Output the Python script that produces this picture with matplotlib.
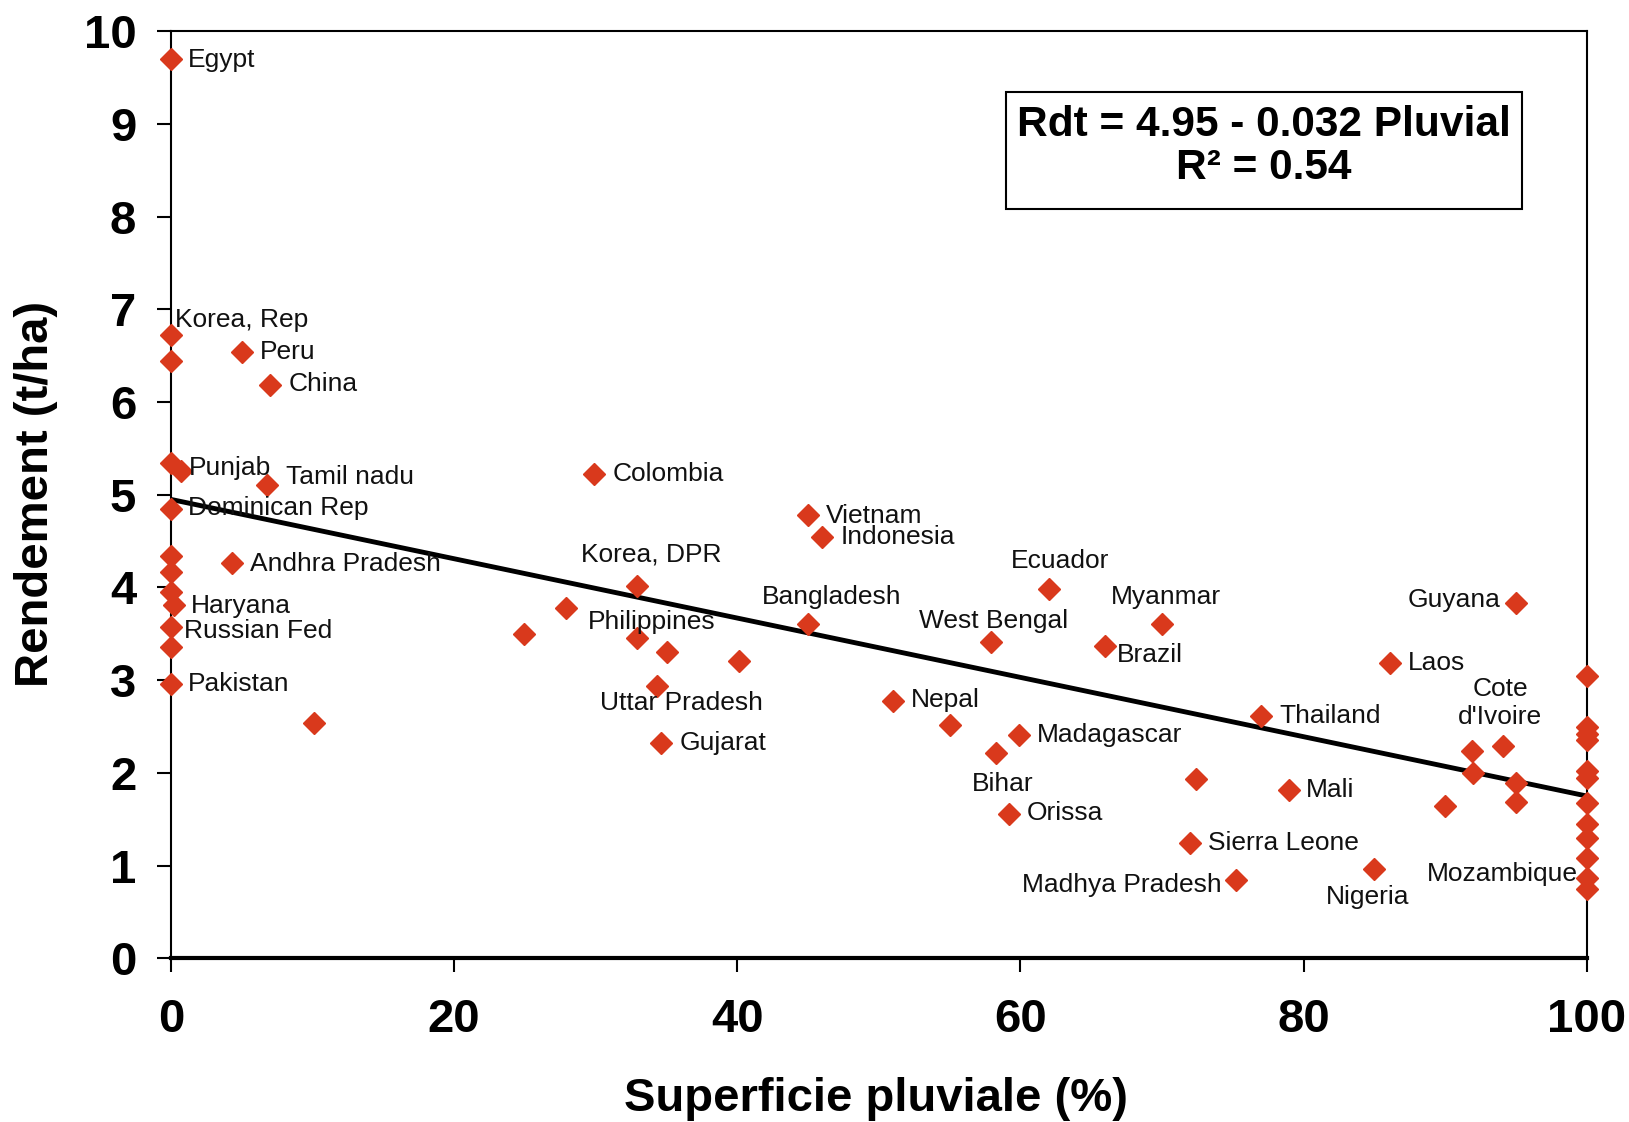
import numpy as np
import matplotlib
matplotlib.use("Agg")
import matplotlib.pyplot as plt
from matplotlib.patches import Rectangle

plt.rcParams['font.family'] = ['Liberation Sans', 'DejaVu Sans']

# donnees
pays = ["Egypt", "Korea, Rep", "", "Peru", "China", "Punjab", "", "Tamil nadu",
        "Dominican Rep", "", "", "", "Andhra Pradesh", "Haryana", "Russian Fed", "",
        "Pakistan", "", "", "", "Colombia", "Korea, DPR", "Philippines", "",
        "Uttar Pradesh", "Gujarat", "", "Vietnam", "Indonesia", "Bangladesh", "Nepal", "",
        "West Bengal", "Bihar", "Orissa", "Madagascar", "Ecuador", "Brazil", "Myanmar",
        "Sierra Leone", "", "Madhya Pradesh", "Thailand", "Mali", "Nigeria", "Laos",
        "", "", "", "Cote\nd'Ivoire", "Guyana", "", "",
        "", "", "", "", "", "", "", "", "", "", "Mozambique", ""]
pluvial = [0, 0, 0, 5.0, 7.0, 0, 0.7, 6.8,
           0, 0, 0, 0, 4.3, 0.2, 0, 0,
           0, 10.1, 24.9, 27.9, 29.9, 32.9, 32.9, 35.0,
           34.3, 34.6, 40.1, 45.0, 46.0, 45.0, 51.0, 55.0,
           57.9, 58.3, 59.2, 59.9, 62.0, 66.0, 70.0,
           72.0, 72.4, 75.2, 77.0, 79.0, 85.0, 86.1,
           90.0, 91.9, 92.0, 94.1, 95.0, 95.0, 95.0,
           100, 100, 100, 100, 100, 100, 100, 100, 100, 100, 100, 100]
rendement = [9.70, 6.72, 6.44, 6.54, 6.19, 5.34, 5.26, 5.11,
             4.85, 4.34, 4.17, 3.95, 4.26, 3.81, 3.57, 3.36,
             2.96, 2.54, 3.50, 3.78, 5.22, 4.02, 3.46, 3.30,
             2.94, 2.32, 3.21, 4.78, 4.54, 3.61, 2.78, 2.52,
             3.41, 2.21, 1.56, 2.41, 3.98, 3.37, 3.61,
             1.24, 1.93, 0.84, 2.61, 1.81, 0.96, 3.18,
             1.64, 2.24, 2.00, 2.29, 3.83, 1.89, 1.69,
             3.04, 2.49, 2.42, 2.35, 2.02, 1.94, 1.67, 1.45, 1.30, 1.08, 0.86, 0.75]

# regression Rdt = a + b * Pluvial
coef = [4.95, -0.032]
r2 = 0.54

# decalage des etiquettes (points) et alignement
etiquettes = {
    "Egypt": (12, 1.5, "left"), "Korea, Rep": (3, 13, "left"),
    "Peru": (13, 1.5, "left"), "China": (13, 2, "left"),
    "Punjab": (13, -1.5, "left"), "Tamil nadu": (13.5, 7.5, "left"),
    "Dominican Rep": (12, 2, "left"), "Andhra Pradesh": (13, 1.5, "left"),
    "Haryana": (12, 1.5, "left"), "Russian Fed": (9, -1, "left"),
    "Pakistan": (12, 1.5, "left"), "Colombia": (13, 2, "left"),
    "Korea, DPR": (10.5, 24, "center"), "Philippines": (10.5, 13, "center"),
    "Uttar Pradesh": (18, -10.5, "center"), "Gujarat": (13.5, 2, "left"),
    "Vietnam": (13, 1.5, "left"), "Indonesia": (13, 2, "left"),
    "Bangladesh": (17, 21, "center"), "West Bengal": (2, 17, "center"),
    "Ecuador": (8, 22.5, "center"), "Myanmar": (3, 21, "center"),
    "Brazil": (8, -5, "left"), "Nepal": (13, 2, "left"),
    "Madagascar": (13, 2, "left"), "Bihar": (4.5, -20, "center"),
    "Orissa": (13, 2, "left"), "Sierra Leone": (13, 2, "left"),
    "Madhya Pradesh": (-10, -1.5, "right"), "Thailand": (13, 2, "left"),
    "Mali": (12, 2, "left"), "Nigeria": (-4.5, -18, "center"),
    "Laos": (13, 2, "left"), "Guyana": (-11, 4, "right"),
    "Cote\nd'Ivoire": (-2, 34, "center"), "Mozambique": (-6, 5, "right"),
}

fig = plt.figure(figsize=(16.29, 11.22), dpi=100)
ax = fig.add_axes([0.105, 0.146, 0.869, 0.826])

ax.plot(pluvial, rendement, linestyle="none", marker="D", ms=11,
        color="#D9391C", zorder=3, clip_on=False)

xl = np.array([0, 100])
ax.plot(xl, coef[0] + coef[1] * xl, color="black", lw=3.5, zorder=2)

for nom, x, y in zip(pays, pluvial, rendement):
    if nom == "":
        continue
    dx, dy, ha = etiquettes[nom]
    ax.annotate(nom, (x, y), xytext=(dx, dy), textcoords="offset points",
                ha=ha, va="center_baseline", fontsize=19, color="#111111",
                multialignment="center", zorder=4)

# cadre de l'equation
ax.add_patch(Rectangle((0.590, 0.808), 0.364, 0.127, transform=ax.transAxes,
                       fill=False, lw=1.5, edgecolor="black", zorder=5))
ax.text(0.772, 0.876, "Rdt = %.2f - %.3f Pluvial\nR² = %.2f" % (coef[0], -coef[1], r2),
        transform=ax.transAxes, ha="center", va="center", fontsize=30.5,
        fontweight="bold", linespacing=1.1, zorder=6)

ax.set_xlim(0, 100)
ax.set_ylim(0, 10)
ax.set_xticks(np.arange(0, 101, 20))
ax.set_yticks(np.arange(0, 11, 1))
ax.tick_params(axis="both", direction="out", length=10, width=1.5, labelsize=34)
ax.tick_params(axis="x", pad=19)
ax.tick_params(axis="y", pad=15)
for lab in ax.get_xticklabels() + ax.get_yticklabels():
    lab.set_fontweight("bold")
for s in ax.spines.values():
    s.set_linewidth(1.5)
ax.spines["bottom"].set_linewidth(3)

ax.set_xlabel("Superficie pluviale (%)", fontsize=34, fontweight="bold")
ax.set_ylabel("Rendement (t/ha)", fontsize=34, fontweight="bold")
ax.xaxis.set_label_coords(0.498, -0.128)
ax.yaxis.set_label_coords(-0.080, 0.501)

fig.savefig("out.png", dpi=100)
